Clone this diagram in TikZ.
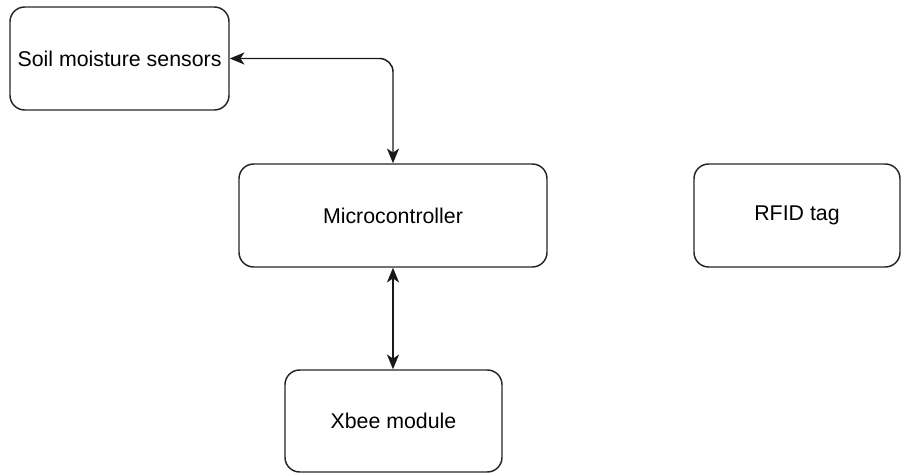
\documentclass[tikz,border=0pt]{standalone}
\usepackage{fontspec}
\setmainfont{Liberation Sans}
\usetikzlibrary{arrows.meta}
\begin{document}
\begin{tikzpicture}[x=0.75pt,y=-0.75pt,
  block/.style={draw=black!85, line width=1.1pt, rounded corners=11pt, inner sep=0pt,
    font=\fontsize{16}{19}\selectfont},
  link/.style={draw=black!90, line width=1.1pt, {Stealth[length=11pt,width=9pt,inset=3pt]}-{Stealth[length=11pt,width=9pt,inset=3pt]}}]
\useasboundingbox (0,0) rectangle (901,474);
% boxes: corner coordinates in pixel units
\node[block, minimum width=219*0.75pt, minimum height=103*0.75pt] (soil) at (119.5,58.5) {Soil moisture sensors};
\node[block, minimum width=308*0.75pt, minimum height=103*0.75pt] (mcu) at (393,215.5) {Microcontroller};
\node[block, minimum width=206*0.75pt, minimum height=103*0.75pt] (rfid) at (797,215.5) {RFID tag};
\node[block, minimum width=217*0.75pt, minimum height=102*0.75pt] (xbee) at (393.5,421) {Xbee module};
% connectors
\draw[link, rounded corners=10pt] (soil.east) -| (mcu.north);
\draw[link] (mcu.south) -- (mcu.south |- xbee.north);
\end{tikzpicture}
\end{document}
